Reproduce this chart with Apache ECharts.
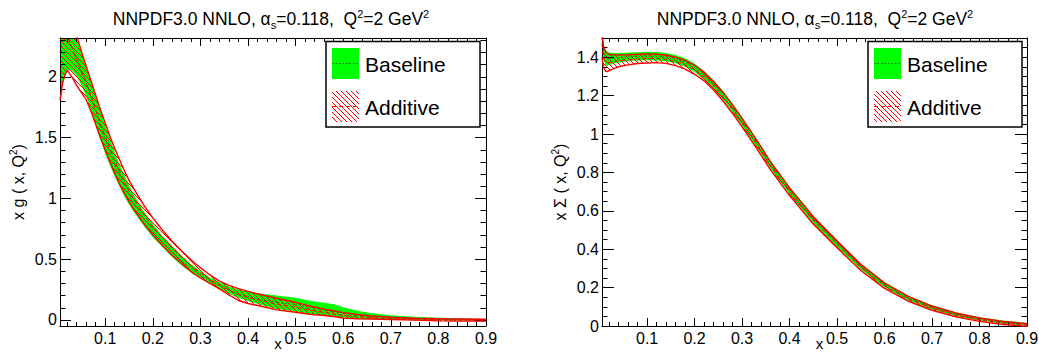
<!DOCTYPE html>
<html>
<head>
<meta charset="utf-8">
<script src="https://cdn.jsdelivr.net/npm/echarts@6/dist/echarts.min.js"></script>
<style>
  html, body { margin: 0; padding: 0; background: #fff; }
  #main { width: 1039px; height: 352px; }
</style>
</head>
<body>
<div id="main"></div>
<script>
// ---- data ----
var xTicks = [0.1, 0.2, 0.3, 0.4, 0.5, 0.6, 0.7, 0.8, 0.9];
var yTicksG = [0, 0.5, 1, 1.5, 2];
var yTicksS = [0, 0.2, 0.4, 0.6, 0.8, 1, 1.2, 1.4];

// gluon, x g(x,Q2)
var xsG = [0.005, 0.007, 0.01, 0.015, 0.02, 0.03, 0.04, 0.05, 0.06, 0.07, 0.08, 0.09, 0.10, 0.11, 0.12,
  0.13, 0.14, 0.15, 0.16, 0.18, 0.20, 0.22, 0.24, 0.26, 0.28, 0.30, 0.32, 0.34, 0.36, 0.38,
  0.40, 0.43, 0.46, 0.50, 0.53, 0.56, 0.58, 0.60, 0.63, 0.66, 0.70, 0.75, 0.80, 0.85, 0.90];
var baseUpG = [2.75, 2.72, 2.68, 2.62, 2.56, 2.44, 2.32, 2.20, 2.08, 1.96, 1.84, 1.72, 1.60, 1.49, 1.38,
  1.28, 1.19, 1.11, 1.03, 0.90, 0.79, 0.69, 0.61, 0.53, 0.46, 0.40, 0.35, 0.31, 0.275, 0.25,
  0.232, 0.215, 0.20, 0.183, 0.158, 0.142, 0.128, 0.105, 0.075, 0.055, 0.038, 0.026, 0.017, 0.011, 0.007];
var baseLoG = [1.15, 1.86, 1.95, 2.02, 2.06, 2.05, 2.01, 1.93, 1.84, 1.72, 1.60, 1.48, 1.37, 1.27, 1.18,
  1.10, 1.02, 0.95, 0.89, 0.78, 0.68, 0.60, 0.52, 0.45, 0.39, 0.34, 0.295, 0.255, 0.215, 0.18,
  0.155, 0.12, 0.09, 0.07, 0.05, 0.037, 0.028, 0.019, 0.011, 0.006, 0.002, -0.002, -0.005, -0.006, -0.007];
var baseMidG = [2.2, 2.26, 2.3, 2.32, 2.31, 2.25, 2.16, 2.06, 1.96, 1.84, 1.72, 1.60, 1.485, 1.38, 1.28,
  1.19, 1.105, 1.03, 0.96, 0.84, 0.735, 0.645, 0.565, 0.49, 0.425, 0.37, 0.322, 0.282, 0.245, 0.215,
  0.193, 0.168, 0.145, 0.127, 0.104, 0.09, 0.078, 0.062, 0.043, 0.03, 0.02, 0.012, 0.006, 0.003, 0.0];
var addUpG = [2.8, 2.78, 2.74, 2.68, 2.6, 2.47, 2.34, 2.21, 2.09, 1.97, 1.85, 1.73, 1.62, 1.51, 1.41,
  1.32, 1.23, 1.15, 1.08, 0.95, 0.84, 0.74, 0.65, 0.57, 0.495, 0.43, 0.37, 0.32, 0.285, 0.258,
  0.235, 0.205, 0.178, 0.145, 0.115, 0.088, 0.073, 0.06, 0.045, 0.033, 0.022, 0.014, 0.01, 0.008, 0.006];
var addLoG = [1.81, 1.85, 1.94, 2.01, 2.055, 2.0, 1.93, 1.87, 1.81, 1.72, 1.61, 1.50, 1.40, 1.30, 1.21,
  1.12, 1.045, 0.975, 0.91, 0.80, 0.70, 0.615, 0.535, 0.465, 0.40, 0.345, 0.30, 0.255, 0.205, 0.16,
  0.135, 0.11, 0.083, 0.063, 0.047, 0.036, 0.028, 0.016, 0.01, 0.007, 0.003, -0.002, -0.008, -0.01, -0.01];
var addMidG = [2.3, 2.31, 2.34, 2.35, 2.33, 2.24, 2.135, 2.04, 1.95, 1.845, 1.73, 1.615, 1.51, 1.405, 1.31,
  1.22, 1.135, 1.06, 0.995, 0.875, 0.77, 0.678, 0.593, 0.518, 0.448, 0.388, 0.335, 0.288, 0.245, 0.209,
  0.185, 0.158, 0.13, 0.104, 0.081, 0.062, 0.05, 0.038, 0.028, 0.02, 0.012, 0.006, 0.001, -0.001, -0.002];

// singlet, x Sigma(x,Q2)
var xsS = [0.005, 0.008, 0.012, 0.016, 0.02, 0.03, 0.04, 0.06, 0.08, 0.10, 0.12, 0.14, 0.16, 0.18, 0.20,
  0.22, 0.24, 0.26, 0.28, 0.30, 0.33, 0.36, 0.40, 0.45, 0.50, 0.55, 0.60, 0.65, 0.70, 0.75,
  0.80, 0.85, 0.90];
var baseUpS = [1.55, 1.47, 1.44, 1.43, 1.425, 1.422, 1.422, 1.424, 1.426, 1.428, 1.427, 1.422, 1.412, 1.394, 1.367,
  1.328, 1.280, 1.223, 1.158, 1.087, 0.977, 0.861, 0.725, 0.574, 0.448, 0.326, 0.229, 0.158, 0.108, 0.072,
  0.046, 0.028, 0.016];
var baseLoS = [1.44, 1.39, 1.36, 1.355, 1.36, 1.368, 1.373, 1.38, 1.383, 1.384, 1.383, 1.378, 1.368, 1.35, 1.323,
  1.283, 1.235, 1.178, 1.113, 1.043, 0.934, 0.819, 0.685, 0.536, 0.413, 0.294, 0.201, 0.133, 0.086, 0.052,
  0.028, 0.012, 0.002];
var baseMidS = [1.495, 1.43, 1.40, 1.39, 1.392, 1.395, 1.397, 1.402, 1.404, 1.406, 1.405, 1.40, 1.39, 1.372, 1.345,
  1.305, 1.257, 1.20, 1.135, 1.065, 0.955, 0.84, 0.705, 0.555, 0.43, 0.31, 0.215, 0.145, 0.097, 0.062,
  0.037, 0.02, 0.009];
var addUpS = [1.53, 1.46, 1.43, 1.42, 1.415, 1.412, 1.412, 1.413, 1.415, 1.417, 1.416, 1.41, 1.40, 1.383, 1.357,
  1.322, 1.274, 1.217, 1.152, 1.081, 0.971, 0.855, 0.719, 0.569, 0.443, 0.321, 0.224, 0.154, 0.104, 0.068,
  0.042, 0.024, 0.012];
var addLoS = [1.40, 1.35, 1.328, 1.325, 1.33, 1.34, 1.35, 1.36, 1.367, 1.37, 1.372, 1.368, 1.356, 1.338, 1.311,
  1.277, 1.229, 1.172, 1.107, 1.037, 0.928, 0.813, 0.679, 0.531, 0.408, 0.289, 0.196, 0.129, 0.082, 0.048,
  0.024, 0.008, -0.002];
var addMidS = [1.47, 1.40, 1.378, 1.372, 1.372, 1.376, 1.381, 1.387, 1.391, 1.394, 1.394, 1.389, 1.378, 1.36, 1.334,
  1.299, 1.251, 1.194, 1.129, 1.059, 0.949, 0.834, 0.699, 0.55, 0.425, 0.305, 0.21, 0.141, 0.093, 0.058,
  0.033, 0.016, 0.005];

// ---- styling ----
var FONT = "'Liberation Sans', Arial, Helvetica, sans-serif";
var GREEN = '#00ff00';
var RED = '#ff0000';

var chart = echarts.init(document.getElementById('main'), null, {renderer: 'svg'});

// red "\\\\" hatch like ROOT fill style 3005
function hatchCanvas() {
    var s = 5;
    var c = document.createElement('canvas');
    c.width = s; c.height = s;
    var g = c.getContext('2d');
    g.strokeStyle = RED;
    g.lineWidth = 1;
    g.beginPath();
    g.moveTo(-1, -1); g.lineTo(s + 1, s + 1);
    g.moveTo(-1, s - 1); g.lineTo(1, s + 1);
    g.moveTo(s - 1, -1); g.lineTo(s + 1, 1);
    g.stroke();
    return c;
}
var HATCH = {image: hatchCanvas(), repeat: 'repeat'};

function minorOf(start, end, step, majors) {
    var out = [];
    for (var v = start; v <= end + 1e-9; v += step) {
        var r = Math.round(v * 1000) / 1000;
        if (majors.indexOf(r) < 0) out.push(r);
    }
    return out;
}
var xMinor = minorOf(0.02, 0.88, 0.02, xTicks);
var yMinorG = minorOf(0.1, 2.3, 0.1, yTicksG);
var yMinorS = minorOf(0.05, 1.45, 0.05, yTicksS);

function axis(gi, min, max, pos, ticks, len, showLine, label) {
    return {
        type: 'value', gridIndex: gi, min: min, max: max, position: pos, z: 5, silent: true,
        splitLine: {show: false},
        axisLine: {show: showLine, onZero: false, lineStyle: {color: '#000', width: 1}},
        axisTick: {show: true, inside: true, length: len, customValues: ticks, lineStyle: {color: '#000', width: 1}},
        axisLabel: label ? {show: true, customValues: ticks, color: '#000', fontSize: 16, fontFamily: FONT, margin: label} : {show: false}
    };
}

var xAxes = [], yAxes = [];
function panelAxes(gi, ymin, ymax, yMaj, yMin, yMajLen, yName) {
    var xb = axis(gi, 0.005, 0.9, 'bottom', xTicks, 8, true, 4);
    xb.name = 'x';
    xb.nameLocation = 'middle';
    xb.nameGap = 10;
    xb.nameMoveOverlap = false;
    xb.nameTextStyle = {color: '#000', fontSize: 15, fontFamily: FONT, lineHeight: 14, padding: [0, 0, 0, 10]};
    xAxes.push(xb,
        axis(gi, 0.005, 0.9, 'bottom', xMinor, 4, false, 0),
        axis(gi, 0.005, 0.9, 'top', xTicks, 8, true, 0),
        axis(gi, 0.005, 0.9, 'top', xMinor, 4, false, 0));
    var yl = axis(gi, ymin, ymax, 'left', yMaj, yMajLen, true, 3);
    yl.name = yName;
    yl.nameLocation = 'middle';
    yl.nameRotate = 90;
    yl.nameGap = 32;
    yl.nameMoveOverlap = false;
    yl.nameTextStyle = {
        color: '#000', fontSize: 16, fontFamily: FONT,
        rich: {
            n: {color: '#000', fontSize: 16, fontFamily: FONT, lineHeight: 20},
            sup: {color: '#000', fontSize: 10, fontFamily: FONT, verticalAlign: 'top', lineHeight: 12}
        }
    };
    yAxes.push(yl,
        axis(gi, ymin, ymax, 'left', yMin, 5.5, false, 0),
        axis(gi, ymin, ymax, 'right', yMaj, yMajLen, true, 0),
        axis(gi, ymin, ymax, 'right', yMin, 5.5, false, 0));
}
panelAxes(0, -0.05, 2.32, yTicksG, yMinorG, 11, '{n|x g ( x, Q}{sup|2}{n|)}');
panelAxes(1, 0, 1.5, yTicksS, yMinorS, 12, '{n|x Σ ( x, Q}{sup|2}{n|)}');

function band(gi, xs, lo, hi, fill, z) {
    return {
        type: 'custom', coordinateSystem: 'cartesian2d',
        xAxisIndex: gi * 4, yAxisIndex: gi * 4, z: z, silent: true,
        data: [[xs[0], lo[0]]],
        renderItem: function (params, api) {
            var pts = [];
            for (var i = 0; i < xs.length; i++) pts.push(api.coord([xs[i], hi[i]]));
            for (var j = xs.length - 1; j >= 0; j--) pts.push(api.coord([xs[j], lo[j]]));
            var cs = params.coordSys;
            return {
                type: 'polygon',
                shape: {points: pts},
                style: {fill: fill, stroke: null},
                clipPath: {type: 'rect', shape: {x: cs.x, y: cs.y, width: cs.width, height: cs.height}}
            };
        }
    };
}

function curve(gi, xs, ys, color, type, width, z) {
    return {
        type: 'line', xAxisIndex: gi * 4, yAxisIndex: gi * 4, z: z, silent: true,
        symbol: 'none', showSymbol: false, clip: true,
        data: xs.map(function (x, i) { return [x, ys[i]]; }),
        lineStyle: {color: color, width: width, type: type}
    };
}

function panelSeries(gi, xs, bLo, bHi, bMid, aLo, aHi, aMid) {
    return [
        band(gi, xs, bLo, bHi, GREEN, 2),
        curve(gi, xs, bMid, '#1f6f1f', [1.5, 2], 1, 3),
        band(gi, xs, aLo, aHi, HATCH, 4),
        curve(gi, xs, aHi, RED, 'solid', 1.4, 5),
        curve(gi, xs, aLo, RED, 'solid', 1.4, 5),
        curve(gi, xs, aMid, RED, [4, 3], 1, 6)
    ];
}

var series = [].concat(
    panelSeries(0, xsG, baseLoG, baseUpG, baseMidG, addLoG, addUpG, addMidG),
    panelSeries(1, xsS, baseLoS, baseUpS, baseMidS, addLoS, addUpS, addMidS)
);

var titleRich = {
    t: {fill: '#000', fontSize: 17.5, fontFamily: FONT, lineHeight: 22},
    sub: {fill: '#000', fontSize: 11, fontFamily: FONT, verticalAlign: 'bottom', lineHeight: 13},
    sup: {fill: '#000', fontSize: 11, fontFamily: FONT, verticalAlign: 'top', lineHeight: 13}
};
var titleText = '{t|NNPDF3.0 NNLO, α}{sub|s}{t|=0.118,  Q}{sup|2}{t|=2 GeV}{sup|2}';

function legendBox(dx) {
    return [
        {type: 'rect', z: 20, shape: {x: 326 + dx, y: 41.5, width: 154, height: 85.5}, style: {fill: '#fff', stroke: '#000', lineWidth: 1.5}},
        {type: 'rect', z: 21, shape: {x: 332 + dx, y: 48, width: 27, height: 31}, style: {fill: GREEN}},
        {type: 'line', z: 22, shape: {x1: 332 + dx, y1: 63.5, x2: 359 + dx, y2: 63.5}, style: {stroke: '#1f6f1f', lineWidth: 1, lineDash: [1.5, 2]}},
        {type: 'text', z: 22, x: 365 + dx, y: 64, style: {text: 'Baseline', fill: '#000', fontSize: 21, fontFamily: FONT, align: 'left', verticalAlign: 'middle'}},
        {type: 'rect', z: 21, shape: {x: 332 + dx, y: 91, width: 27, height: 31}, style: {fill: HATCH}},
        {type: 'line', z: 22, shape: {x1: 332 + dx, y1: 106.5, x2: 359 + dx, y2: 106.5}, style: {stroke: RED, lineWidth: 1, lineDash: [4, 3]}},
        {type: 'text', z: 22, x: 365 + dx, y: 107, style: {text: 'Additive', fill: '#000', fontSize: 21, fontFamily: FONT, align: 'left', verticalAlign: 'middle'}}
    ];
}

var graphics = [
    {type: 'text', z: 20, x: 271, y: 19, style: {text: titleText, rich: titleRich, fill: '#000', fontSize: 17.5, fontFamily: FONT, align: 'center', verticalAlign: 'middle'}},
    {type: 'text', z: 20, x: 815, y: 19, style: {text: titleText, rich: titleRich, fill: '#000', fontSize: 17.5, fontFamily: FONT, align: 'center', verticalAlign: 'middle'}}
].concat(legendBox(0), legendBox(542));

chart.setOption({
    animation: false,
    backgroundColor: '#fff',
    grid: [
        {left: 60, top: 38, width: 426, height: 288, outerBoundsMode: 'none', containLabel: false},
        {left: 602, top: 38, width: 425, height: 288, outerBoundsMode: 'none', containLabel: false}
    ],
    xAxis: xAxes,
    yAxis: yAxes,
    series: series,
    graphic: graphics
});
</script>
</body>
</html>
